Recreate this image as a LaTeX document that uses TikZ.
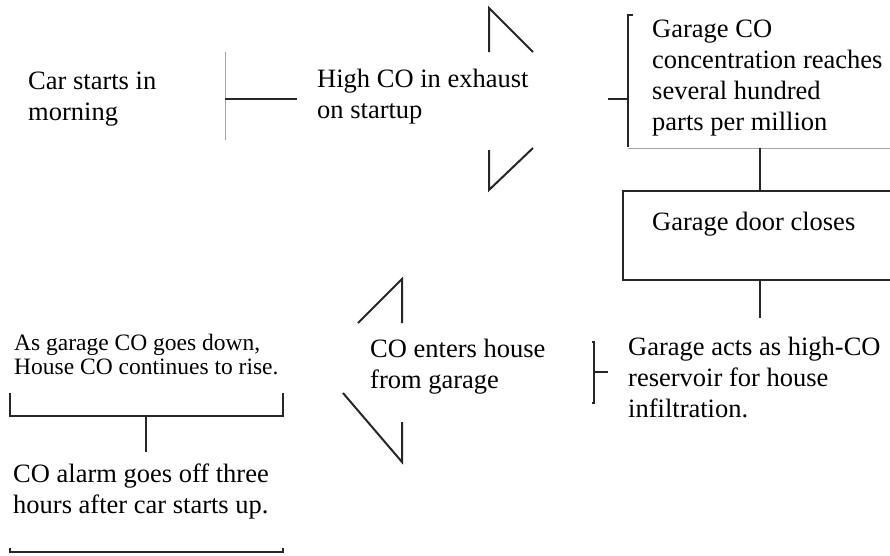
\documentclass[tikz,border=0pt]{standalone}
\usepackage{fontspec}
\setmainfont{Liberation Serif}

\tikzset{
  link/.style={line width=2pt,color=black!85},
  faint/.style={line width=0.5pt,color=black!35},
  bigtext/.style={anchor=base west,inner sep=0,align=left,font=\fontsize{26.5}{31}\selectfont},
  smalltext/.style={anchor=base west,inner sep=0,align=left,font=\fontsize{23.5}{24}\selectfont}
}

\begin{document}
\begin{tikzpicture}[x=1pt,y=-1pt]
\useasboundingbox (0,0) rectangle (890,555);

% top row (text placed at baseline of last line)
\node[bigtext] (car) at (28,120) {Car starts in\\morning};
\draw[faint] (225,52) -- (225,140);
\draw[link] (225,99) -- (297,99);
\node[bigtext] (exhaust) at (317,118) {High CO in exhaust\\on startup};
\draw[link] (489,52) -- (489,8) -- (533,52);
\draw[link] (533,148) -- (489,190) -- (489,150);
\draw[link] (608,99) -- (628,99);
\draw[link] (633,15) -- (628,15) -- (628,147);
\draw[faint] (628,148) -- (890,148);
\node[bigtext] (ppm) at (652,130) {Garage CO\\concentration reaches\\several hundred\\parts per million};

% right column
\draw[link] (760,148) -- (760,191);
\draw[link] (890,191) -- (623,191) -- (623,280) -- (890,280);
\node[bigtext] (door) at (652,230) {Garage door closes};
\draw[link] (760,280) -- (760,318);

% middle row
\node[bigtext] (reservoir) at (628,417) {Garage acts as high-CO\\reservoir for house\\infiltration.};
\draw[link] (592,342) -- (594,342) -- (594,403) -- (592,403);
\draw[link] (594,372) -- (608,372);
\node[bigtext] (enters) at (370,388) {CO enters house\\from garage};
\draw[link] (358,323) -- (402,279) -- (402,323);
\draw[link] (343,393) -- (402,462) -- (402,422);

% left column
\node[smalltext] (rise) at (14,374) {As garage CO goes down,\\House CO continues to rise.};
\draw[link] (10,393) -- (10,416) -- (283,416) -- (283,393);
\draw[link] (146,416) -- (146,452);
\node[bigtext] (alarm) at (13,513) {CO alarm goes off three\\hours after car starts up.};
\draw[link] (10,548) -- (10,552) -- (283,552) -- (283,548);
\end{tikzpicture}
\end{document}
